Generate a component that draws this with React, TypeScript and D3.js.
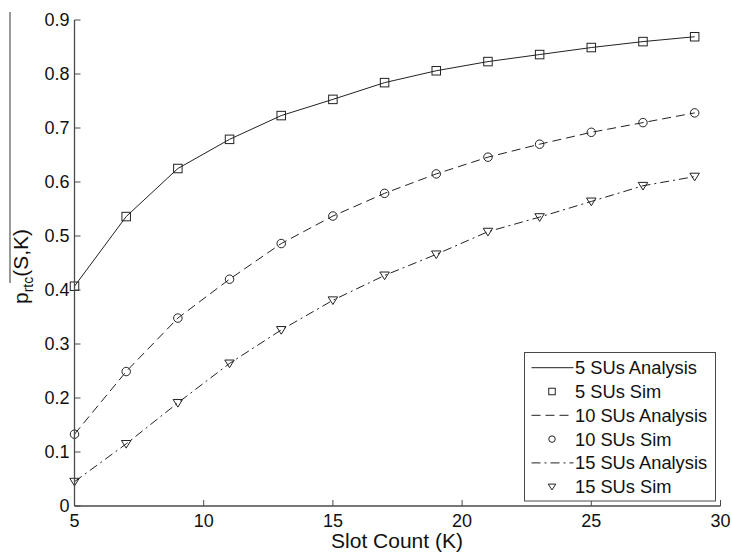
import React from "react";
import * as d3 from "d3";

const slotCounts = [5, 7, 9, 11, 13, 15, 17, 19, 21, 23, 25, 27, 29];
const su5Values = [0.407, 0.536, 0.625, 0.679, 0.723, 0.753, 0.784, 0.806, 0.823, 0.836, 0.849, 0.860, 0.869];
const su10Values = [0.133, 0.249, 0.348, 0.420, 0.486, 0.537, 0.579, 0.615, 0.646, 0.670, 0.692, 0.710, 0.728];
const su15Values = [0.045, 0.115, 0.191, 0.264, 0.326, 0.381, 0.427, 0.466, 0.508, 0.535, 0.564, 0.593, 0.610];
const xTicks = [5, 10, 15, 20, 25, 30];
const yTicks = [0, 0.1, 0.2, 0.3, 0.4, 0.5, 0.6, 0.7, 0.8, 0.9];
const legendLabels = ["5 SUs Analysis", "5 SUs Sim", "10 SUs Analysis", "10 SUs Sim", "15 SUs Analysis", "15 SUs Sim"];

const W = 731;
const H = 552;
const FONT = "'Liberation Sans', Arial, Helvetica, sans-serif";
const AXIS = "#4a4a4a";
const INK = "#222";

type Marker = "square" | "circle" | "triangle";

function MarkerShape({ kind, x, y, s }: { kind: Marker; x: number; y: number; s: number }) {
  const h = s / 2;
  if (kind === "square") {
    return <rect x={x - h} y={y - h} width={s} height={s} fill="none" stroke={INK} strokeWidth={1} />;
  }
  if (kind === "circle") {
    return <circle cx={x} cy={y} r={h} fill="none" stroke={INK} strokeWidth={1} />;
  }
  const pts = [
    [x - h - 0.5, y - h * 0.8],
    [x + h + 0.5, y - h * 0.8],
    [x, y + h],
  ];
  return <polygon points={pts.map((p) => p.join(",")).join(" ")} fill="none" stroke={INK} strokeWidth={1} />;
}

export default function App() {
  const x = d3.scaleLinear().domain([5, 30]).range([74.5, 720.5]);
  const y = d3.scaleLinear().domain([0, 0.9]).range([506, 20]);

  const series: { values: number[]; dash: string | undefined; marker: Marker }[] = [
    { values: su5Values, dash: undefined, marker: "square" },
    { values: su10Values, dash: "9,5", marker: "circle" },
    { values: su15Values, dash: "9,4,2,4", marker: "triangle" },
  ];

  const line = d3
    .line<[number, number]>()
    .x((d) => x(d[0]))
    .y((d) => y(d[1]))
    .curve(d3.curveLinear);

  const legendX0 = 524.5;
  const legendY0 = 352.5;
  const legendW = 191;
  const legendH = 148.5;
  const rowY = (i: number) => 367.7 + i * 23.8;

  return (
    <svg
      width={W}
      height={H}
      style={{ position: "absolute", left: 0, top: 0, background: "#fff" }}
      fontFamily={FONT}
    >
      <rect x={0} y={0} width={W} height={H} fill="#fff" />

      {/* curves */}
      {series.map((s, i) => (
        <path
          key={"l" + i}
          d={line(slotCounts.map((k, j) => [k, s.values[j]]) as [number, number][]) || ""}
          fill="none"
          stroke={INK}
          strokeWidth={1}
          strokeDasharray={s.dash}
        />
      ))}
      {series.map((s, i) =>
        slotCounts.map((k, j) => (
          <MarkerShape key={"m" + i + "-" + j} kind={s.marker} x={x(k)} y={y(s.values[j])} s={8.5} />
        ))
      )}

      {/* axes */}
      <line x1={x(5)} x2={x(5)} y1={y(0.9)} y2={y(0)} stroke={AXIS} strokeWidth={1.3} />
      <line x1={x(5)} x2={x(30)} y1={y(0)} y2={y(0)} stroke={AXIS} strokeWidth={1.3} />
      {yTicks.map((t) => (
        <g key={"yt" + t}>
          <line x1={x(5)} x2={x(5) + 6} y1={y(t)} y2={y(t)} stroke={AXIS} strokeWidth={1} />
          <text x={x(5) - 5} y={y(t)} dy="0.36em" textAnchor="end" fontSize={18} fill="#111">
            {t === 0 ? "0" : t.toFixed(1)}
          </text>
        </g>
      ))}
      {xTicks.map((t) => (
        <g key={"xt" + t}>
          <line x1={x(t)} x2={x(t)} y1={y(0)} y2={y(0) - 6} stroke={AXIS} strokeWidth={1} />
          <text x={x(t)} y={527} textAnchor="middle" fontSize={18} fill="#111">
            {t}
          </text>
        </g>
      ))}

      {/* axis labels */}
      <text x={397} y={548} textAnchor="middle" fontSize={21} fill="#111">
        Slot Count (K)
      </text>
      <line x1={10} x2={10} y1={12} y2={283} stroke="#555" strokeWidth={1.2} />
      <text transform="translate(28,304) rotate(-90)" fontSize={21} fill="#111">
        p
        <tspan fontSize={14} dy={5}>rtc</tspan>
        <tspan dy={-5}>(S,K)</tspan>
      </text>

      {/* legend */}
      <rect x={legendX0} y={legendY0} width={legendW} height={legendH} fill="#fff" stroke={AXIS} strokeWidth={1} />
      {legendLabels.map((lab, i) => {
        const s = series[Math.floor(i / 2)];
        const yy = rowY(i);
        return (
          <g key={"lg" + i}>
            {i % 2 === 0 ? (
              <line x1={531.5} x2={573.5} y1={yy} y2={yy} stroke={INK} strokeWidth={1} strokeDasharray={s.dash} />
            ) : (
              <MarkerShape kind={s.marker} x={552} y={yy} s={6.5} />
            )}
            <text x={575} y={yy} dy="0.36em" fontSize={18.3} fill="#111">
              {lab}
            </text>
          </g>
        );
      })}
    </svg>
  );
}
